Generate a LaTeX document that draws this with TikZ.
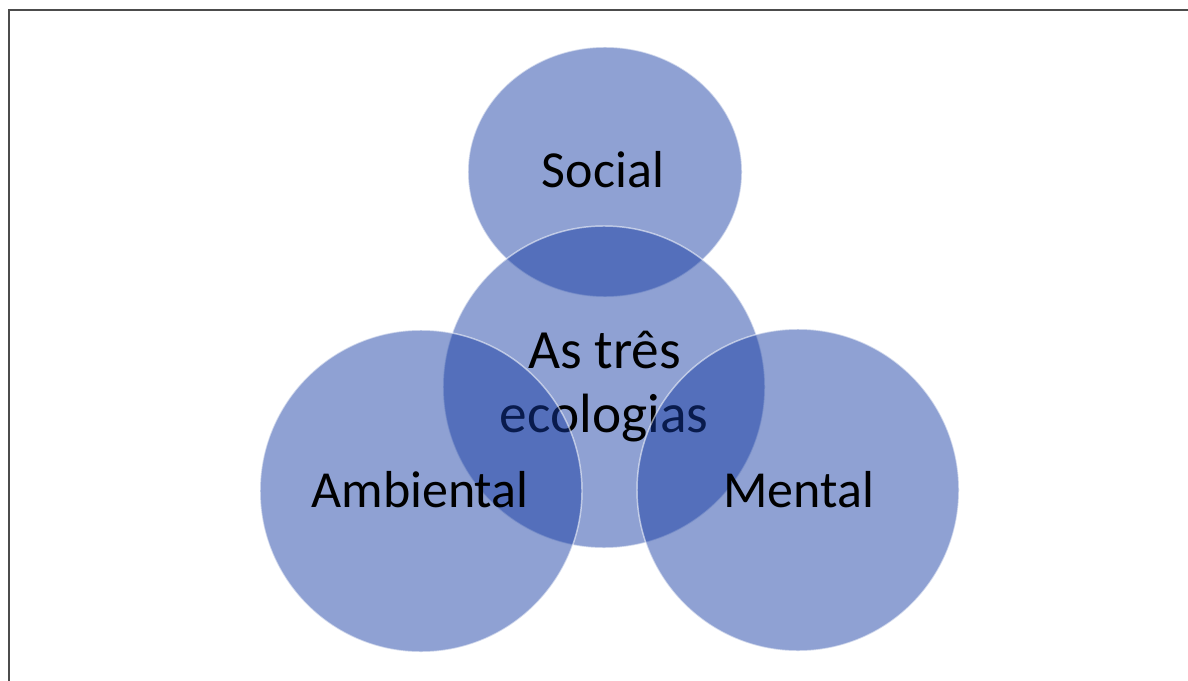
\documentclass[tikz,border=0pt]{standalone}
\usepackage{fontspec}
\setmainfont{Carlito}
\usetikzlibrary{shapes.geometric}
\definecolor{bolha}{RGB}{20,58,162}
\begin{document}
\begin{tikzpicture}[x=0.75pt,y=-0.75pt,
  bolha/.style={ellipse, inner sep=0pt, fill=bolha, fill opacity=0.48, text opacity=1,
    draw=white, draw opacity=0.55, line width=1.1pt},
  rotulo/.style={anchor=base, font=\fontsize{39}{48}\selectfont},
  titulo/.style={anchor=base, font=\fontsize{41.5}{48}\selectfont}]
  \useasboundingbox (0,0) rectangle (1188,681);
  \draw[line width=1.5pt, black!70] (8.5,681) -- (8.5,10.5) -- (1188,10.5);
  % as bolhas
  \node[bolha, minimum width=205.5pt, minimum height=187.5pt] (social) at (605,172) {};
  \node[bolha, minimum size=241.5pt] (centro) at (604,387) {};
  \node[titulo] (tres) at (604.5,368) {As três};
  \node[titulo] (ecologias) at (604,432) {ecologias};
  \node[bolha, minimum size=241.5pt] (ambiental) at (421,491) {};
  \node[bolha, minimum size=241.5pt] (mental) at (798,490) {};
  % rotulos
  \node[rotulo] (tsocial) at (603,187) {Social};
  \node[rotulo] (tambiental) at (420,507) {Ambiental};
  \node[rotulo] (tmental) at (798.5,507) {Mental};
\end{tikzpicture}
\end{document}
